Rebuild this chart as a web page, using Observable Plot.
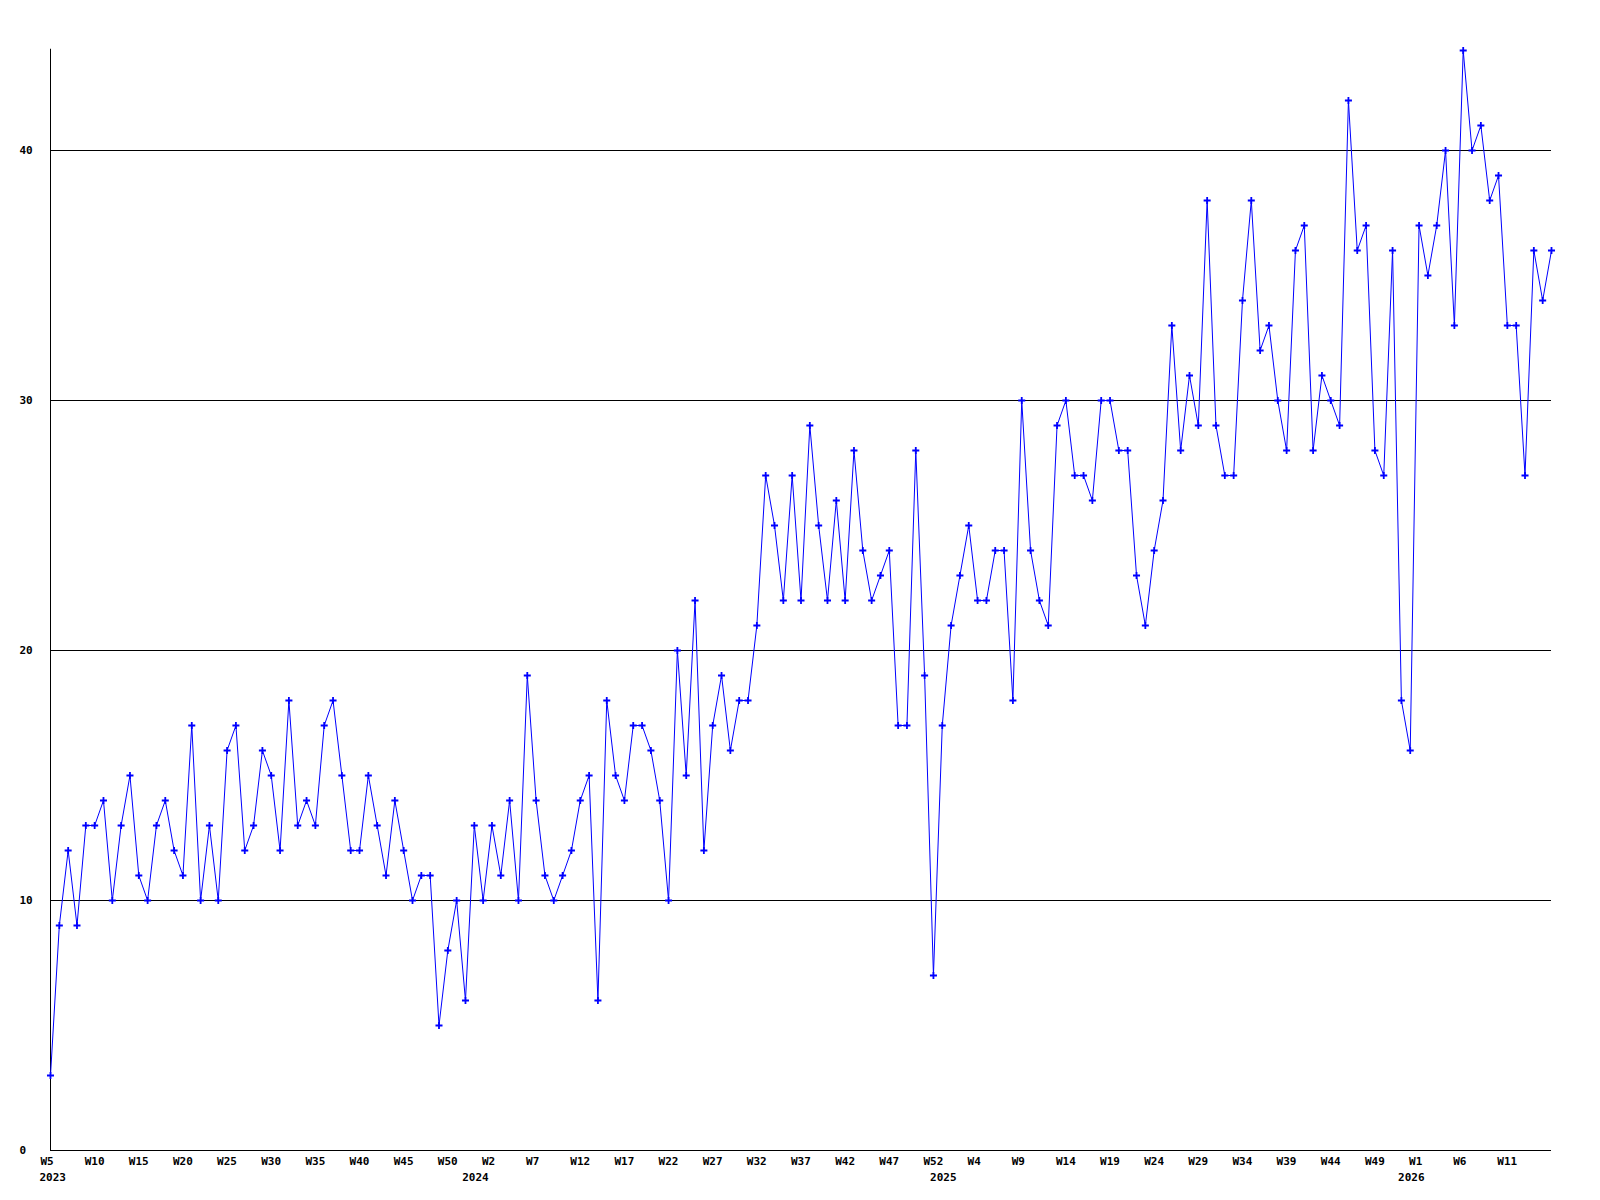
<!DOCTYPE html>
<html>
<head>
<meta charset="utf-8">
<script src="https://cdn.jsdelivr.net/npm/d3@7"></script>
<script src="https://cdn.jsdelivr.net/npm/@observablehq/plot@0.6"></script>
<style>
  html, body { margin: 0; padding: 0; background: #ffffff; }
  #chart svg { display: block; }
</style>
</head>
<body>
<div id="chart"></div>
<script>
// Weekly values, 2023 W5 … 2026 W16 (one value per week)
const values = [
  3, 9, 12, 9, 13, 13, 14, 10, 13, 15,
  11, 10, 13, 14, 12, 11, 17, 10, 13, 10,
  16, 17, 12, 13, 16, 15, 12, 18, 13, 14,
  13, 17, 18, 15, 12, 12, 15, 13, 11, 14,
  12, 10, 11, 11, 5, 8, 10, 6, 13, 10,
  13, 11, 14, 10, 19, 14, 11, 10, 11, 12,
  14, 15, 6, 18, 15, 14, 17, 17, 16, 14,
  10, 20, 15, 22, 12, 17, 19, 16, 18, 18,
  21, 27, 25, 22, 27, 22, 29, 25, 22, 26,
  22, 28, 24, 22, 23, 24, 17, 17, 28, 19,
  7, 17, 21, 23, 25, 22, 22, 24, 24, 18,
  30, 24, 22, 21, 29, 30, 27, 27, 26, 30,
  30, 28, 28, 23, 21, 24, 26, 33, 28, 31,
  29, 38, 29, 27, 27, 34, 38, 32, 33, 30,
  28, 36, 37, 28, 31, 30, 29, 42, 36, 37,
  28, 27, 36, 18, 16, 37, 35, 37, 40, 33,
  44, 40, 41, 38, 39, 33, 33, 27, 36, 34, 36
];

// x-axis tick labels (every 5th week)
const tickLabels = [
  "W5", "W10", "W15", "W20", "W25", "W30", "W35", "W40", "W45", "W50",
  "W2", "W7", "W12", "W17", "W22", "W27", "W32", "W37", "W42", "W47", "W52",
  "W4", "W9", "W14", "W19", "W24", "W29", "W34", "W39", "W44", "W49",
  "W1", "W6", "W11"
];
// year labels and the week index where each year's row begins
const years = ["2023", "2024", "2025", "2026"];
const yearStartIndex = [0, 49, 102, 155];
const yTicks = [0, 10, 20, 30, 40];
const yGrid = [10, 20, 30, 40];

const points = values.map((v, i) => ({i, v}));
const ticks = tickLabels.map((label, k) => ({i: k * 5, label}));
const yearRows = years.map((label, k) => ({i: yearStartIndex[k], label, first: k === 0}));

const font = "'DejaVu Sans Mono', monospace";

const chart = Plot.plot({
  width: 1600,
  height: 1200,
  marginLeft: 50,
  marginRight: 49,
  marginTop: 50,
  marginBottom: 50,
  style: {background: "#ffffff", fontFamily: font},
  x: {domain: [0, values.length - 1], axis: null},
  y: {domain: [0, 44], axis: null},
  marks: [
    Plot.ruleY(yGrid, {stroke: "#000000", strokeWidth: 1}),
    Plot.ruleY([0], {stroke: "#000000", strokeWidth: 1, x1: 0, x2: values.length - 1}),
    Plot.ruleX([0], {stroke: "#000000", strokeWidth: 1, y1: 0, y2: 44.05}),
    Plot.line(points, {x: "i", y: "v", stroke: "#0000ff", strokeWidth: 1}),
    Plot.dot(points, {x: "i", y: "v", symbol: "plus", r: 2.4, stroke: "#0000ff", strokeWidth: 1.8}),
    Plot.text(ticks, {x: "i", text: "label", frameAnchor: "bottom", textAnchor: "start", dy: 14, dx: -10,
      fill: "#000000", fontSize: 11, fontWeight: "bold", fontFamily: font}),
    Plot.text(yearRows, {x: "i", text: "label", frameAnchor: "bottom", textAnchor: "start", dy: 30,
      dx: -21, fill: "#000000", fontSize: 11, fontWeight: "bold", fontFamily: font,
      filter: d => !d.first}),
    Plot.text(yearRows, {x: "i", text: "label", frameAnchor: "bottom", textAnchor: "start", dy: 30,
      dx: -11, fill: "#000000", fontSize: 11, fontWeight: "bold", fontFamily: font,
      filter: d => d.first}),
    Plot.text(yTicks, {y: d => d, text: d => String(d), frameAnchor: "left", textAnchor: "start", dx: -31,
      fill: "#000000", fontSize: 11, fontWeight: "bold", fontFamily: font})
  ]
});

document.getElementById("chart").appendChild(chart);
</script>
</body>
</html>
